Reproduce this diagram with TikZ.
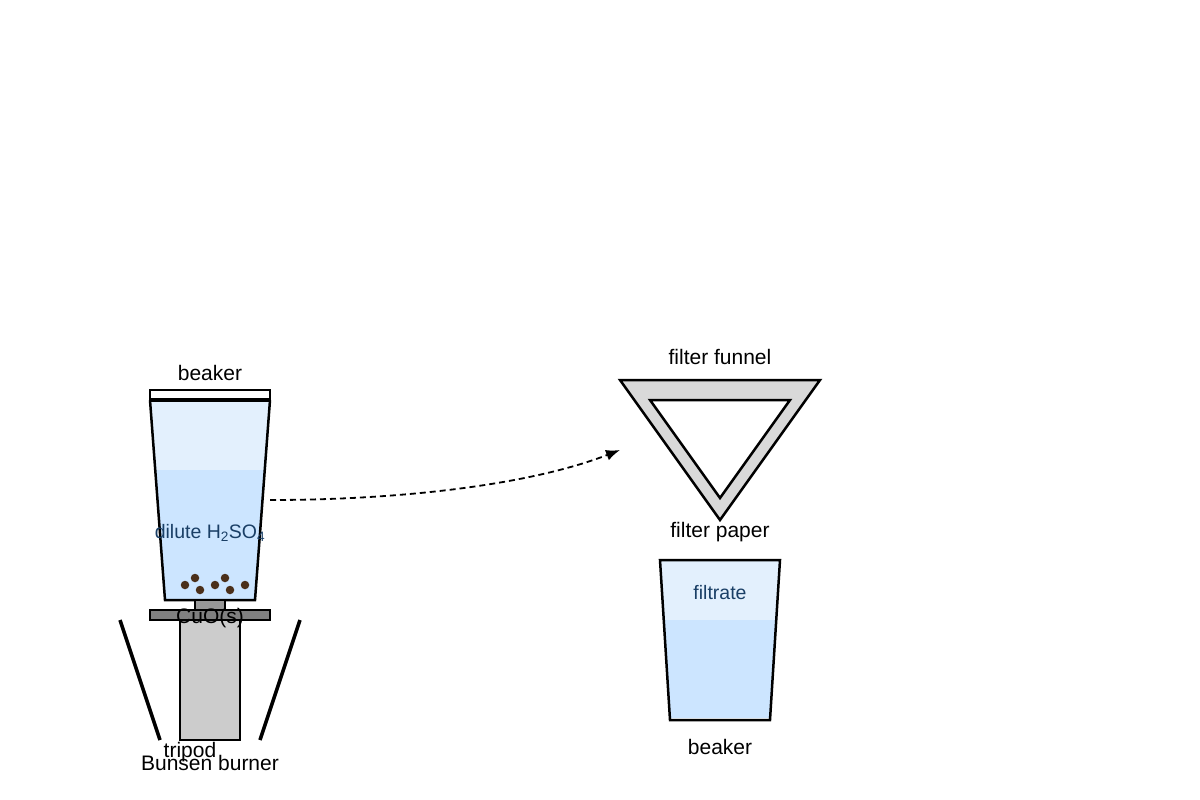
\documentclass[tikz,border=0pt]{standalone}
\usepackage{fontspec}
\setmainfont{Liberation Sans}
\usetikzlibrary{arrows.meta}
\definecolor{liqlight}{HTML}{E3F0FD}
\definecolor{liq}{HTML}{CCE5FF}
\definecolor{txtblue}{HTML}{1A3F66}
\definecolor{cuo}{HTML}{4A2F1A}
\begin{document}
\begin{tikzpicture}[x=1pt,y=-1pt,
  lbl/.style={font=\fontsize{21}{25}\selectfont, inner sep=0pt},
  blbl/.style={lbl, text=txtblue, font=\fontsize{19.5}{23}\selectfont},
  glass/.style={draw=black, line width=2.5pt},
  dot/.style={circle, fill=cuo, minimum size=8.5pt, inner sep=0pt}]
\useasboundingbox (0,0) rectangle (1200,800);
% left beaker
\fill[liqlight] (150,402) -- (270,402) -- (265,470) -- (155,470) -- cycle;
\fill[liq] (155,470) -- (265,470) -- (255,600) -- (165,600) -- cycle;
\draw[glass] (150,400) -- (165,600) -- (255,600) -- (270,400);
\draw[line width=2pt, fill=white] (150,390) rectangle (270,401);
\draw[line width=3.5pt] (150,400) -- (270,400);
\node[blbl] (acid) at (210,533) {dilute H\textsubscript{2}SO\textsubscript{4}};
\foreach \i/\p in {1/{(185,585)},2/{(195,578)},3/{(200,590)},4/{(215,585)},5/{(225,578)},6/{(230,590)},7/{(245,585)}}
  \node[dot] (d\i) at \p {};
% tripod & burner
\draw[fill=gray!85!black!70, line width=1.2pt] (195,600) rectangle (225,610);
\draw[fill=gray, line width=1.5pt] (150,610) rectangle (270,620);
\draw[fill=gray!40, line width=1.5pt] (180,620) rectangle (240,740);
\draw[line width=3.5pt] (120,620) -- (160,740);
\draw[line width=3.5pt] (300,620) -- (260,740);
\node[lbl] (cuo) at (210,618) {CuO(s)};
\node[lbl] (beakerA) at (210,373) {beaker};
\node[lbl] (tripod) at (190,752) {tripod};
\node[lbl] (bunsen) at (210,763) {Bunsen burner};
% funnel
\draw[line width=2.5pt, fill=gray!30] (620,380) -- (820,380) -- (720,520) -- cycle;
\draw[line width=2.5pt, fill=white] (650,400) -- (790,400) -- (720,498) -- cycle;
\node[lbl] (funnel) at (720,357) {filter funnel};
\node[lbl] (paper) at (720,532) {filter paper};
\coordinate (fin) at (620,450);
% right beaker
\fill[liqlight] (660,560) -- (780,560) -- (776,620) -- (664,620) -- cycle;
\fill[liq] (664,620) -- (776,620) -- (770,718) -- (670,718) -- cycle;
\draw[glass] (660,560) -- (780,560) -- (770,720) -- (670,720) -- cycle;
\node[blbl] (filtrate) at (720,593) {filtrate};
\node[lbl] (beakerB) at (720,747) {beaker};
% arrow
\coordinate (aout) at (270,500);
\draw[dash pattern=on 6pt off 4pt, line width=1.8pt, -{Latex[length=14pt,width=11pt]}] (aout) .. controls (400,500) and (530,485) .. (fin);
\end{tikzpicture}
\end{document}
